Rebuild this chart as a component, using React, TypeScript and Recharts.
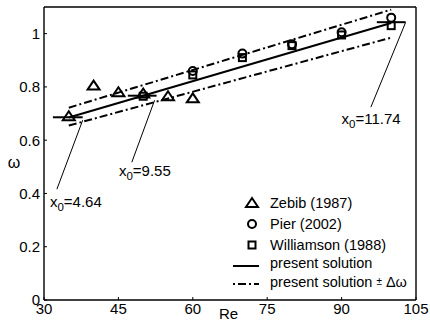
import React from 'react';
import {
    ComposedChart,
    Line,
    Scatter,
    XAxis,
    YAxis,
    ReferenceLine,
    ReferenceDot,
    Legend
} from 'recharts';

// experimental points (Re, omega)
const zebib = [
    { x: 35, y: 0.69 },
    { x: 40, y: 0.805 },
    { x: 45, y: 0.78 },
    { x: 50, y: 0.775 },
    { x: 55, y: 0.765 },
    { x: 60, y: 0.757 }
];
const pier = [
    { x: 60, y: 0.86 },
    { x: 70, y: 0.925 },
    { x: 80, y: 0.96 },
    { x: 90, y: 1.005 },
    { x: 100, y: 1.06 }
];
const williamson = [
    { x: 50, y: 0.765 },
    { x: 60, y: 0.845 },
    { x: 70, y: 0.91 },
    { x: 80, y: 0.955 },
    { x: 90, y: 0.995 },
    { x: 100, y: 1.03 }
];

// present solution and its +/- band
const solution = [
    { x: 35, y: 0.685 },
    { x: 100, y: 1.04 }
];
const upperBand = [
    { x: 35, y: 0.722 },
    { x: 100, y: 1.09 }
];
const lowerBand = [
    { x: 35, y: 0.655 },
    { x: 100, y: 0.985 }
];

// short horizontal marks at the x0 points
const mark1 = [{ x: 31.8, y: 0.686 }, { x: 37.8, y: 0.686 }];
const mark2 = [{ x: 46.9, y: 0.767 }, { x: 52.7, y: 0.767 }];
const mark3 = [{ x: 97.1, y: 1.043 }, { x: 102.9, y: 1.043 }];

// annotation leaders and labels
const leaders = [
    [{ x: 37.8, y: 0.675 }, { x: 32.6, y: 0.416 }],
    [{ x: 52.3, y: 0.75 }, { x: 47.7, y: 0.517 }],
    [{ x: 102.9, y: 1.042 }, { x: 95.9, y: 0.724 }]
];
const annoLabels = [
    { x: 31.2, y: 0.35, text: '4.64' },
    { x: 45.1, y: 0.467, text: '9.55' },
    { x: 90.0, y: 0.662, text: '11.74' }
];

const xTicks = [30, 45, 60, 75, 90, 105];
const yTicks = [0, 0.2, 0.4, 0.6, 0.8, 1];

const FONT = '"Liberation Sans", Arial, sans-serif';
const AXIS_LINE = { stroke: '#000', strokeWidth: 1.4 };

const Triangle = ({ cx, cy }: any) => (
    <path d={`M${cx},${cy - 5} L${cx + 6},${cy + 4} L${cx - 6},${cy + 4} Z`} fill="none" stroke="#000" strokeWidth={2} />
);
const Circle = ({ cx, cy }: any) => (
    <circle cx={cx} cy={cy} r={4} fill="none" stroke="#000" strokeWidth={2} />
);
const Square = ({ cx, cy }: any) => (
    <rect x={cx - 3.5} y={cy - 3.5} width={7} height={7} fill="none" stroke="#000" strokeWidth={2} />
);

const AnnoText = (props: any) => {
    const { viewBox, text } = props;
    return (
        <text x={viewBox.x} y={viewBox.y} fontSize={15} fontFamily={FONT} fill="#000">
            x<tspan dy={4} fontSize={11.5}>0</tspan><tspan dy={-4}>={text}</tspan>
        </text>
    );
};

const LegendBox = () => (
    <svg width={200} height={100} style={{ fontFamily: FONT, fontSize: 14.5 }}>
        <Triangle cx={24} cy={11} />
        <text x={42} y={16}>Zebib (1987)</text>
        <Circle cx={24} cy={32} />
        <text x={42} y={37}>Pier (2002)</text>
        <Square cx={24} cy={53} />
        <text x={42} y={58}>Williamson (1988)</text>
        <line x1={5} x2={31} y1={74} y2={74} stroke="#000" strokeWidth={2} />
        <text x={42} y={76}>present solution</text>
        <line x1={5} x2={31} y1={92} y2={92} stroke="#000" strokeWidth={2} strokeDasharray="2 3 8 3" />
        <text x={42} y={95}>present solution <tspan fontSize={10} dy={-2}>±</tspan><tspan dy={2}> Δω</tspan></text>
    </svg>
);

export default function App() {
    return (
        <div style={{ position: 'absolute', left: 0, top: 0, background: '#fff' }}>
            <ComposedChart width={430} height={322} margin={{ top: 0, right: 0, bottom: 0, left: 0 }}>
                <XAxis
                    dataKey="x"
                    type="number"
                    domain={[30, 105]}
                    ticks={xTicks}
                    allowDataOverflow
                    height={22}
                    tickSize={-3}
                    tickMargin={6}
                    axisLine={AXIS_LINE}
                    stroke="#000"
                    tick={{ fill: '#000', fontSize: 15, fontFamily: FONT }}
                />
                <XAxis
                    xAxisId="top"
                    orientation="top"
                    type="number"
                    domain={[30, 105]}
                    ticks={xTicks}
                    height={7}
                    tickSize={-3}
                    tickFormatter={() => ''}
                    axisLine={AXIS_LINE}
                    stroke="#000"
                />
                <YAxis
                    dataKey="y"
                    type="number"
                    domain={[0, 1.1]}
                    ticks={yTicks}
                    allowDataOverflow
                    width={44}
                    tickSize={-3}
                    tickMargin={7}
                    axisLine={AXIS_LINE}
                    stroke="#000"
                    tickFormatter={(v: number) => String(v)}
                    tick={{ fill: '#000', fontSize: 15, fontFamily: FONT }}
                />
                <YAxis
                    yAxisId="right"
                    orientation="right"
                    type="number"
                    domain={[0, 1.1]}
                    ticks={yTicks}
                    width={14}
                    tickSize={-3}
                    tickFormatter={() => ''}
                    axisLine={AXIS_LINE}
                    stroke="#000"
                />

                <Line data={upperBand} dataKey="y" stroke="#000" strokeWidth={2} strokeDasharray="8 3 2 3" dot={false} isAnimationActive={false} />
                <Line data={lowerBand} dataKey="y" stroke="#000" strokeWidth={2} strokeDasharray="8 3 2 3" dot={false} isAnimationActive={false} />
                <Line data={solution} dataKey="y" stroke="#000" strokeWidth={2} dot={false} isAnimationActive={false} />
                <Line data={mark1} dataKey="y" stroke="#000" strokeWidth={2} dot={false} isAnimationActive={false} />
                <Line data={mark2} dataKey="y" stroke="#000" strokeWidth={2} dot={false} isAnimationActive={false} />
                <Line data={mark3} dataKey="y" stroke="#000" strokeWidth={2} dot={false} isAnimationActive={false} />

                <Scatter data={zebib} shape={<Triangle />} isAnimationActive={false} />
                <Scatter data={pier} shape={<Circle />} isAnimationActive={false} />
                <Scatter data={williamson} shape={<Square />} isAnimationActive={false} />

                {leaders.map((seg, i) => (
                    <ReferenceLine key={`l${i}`} segment={seg} stroke="#000" strokeWidth={1} ifOverflow="visible" />
                ))}
                {annoLabels.map((a) => (
                    <ReferenceDot
                        key={a.text}
                        x={a.x}
                        y={a.y}
                        r={0}
                        fill="none"
                        stroke="none"
                        ifOverflow="visible"
                        label={<AnnoText text={a.text} />}
                    />
                ))}

                <Legend
                    layout="horizontal"
                    align="center"
                    verticalAlign="middle"
                    content={() => <LegendBox />}
                    wrapperStyle={{ left: 228, top: 192, width: 200, height: 100 }}
                />

                <text x={14} y={168} textAnchor="middle" fontSize={16} fontFamily={FONT} fill="#000">ω</text>
                <text x={219} y={319} fontSize={15} fontFamily={FONT} fill="#000">Re</text>
            </ComposedChart>
        </div>
    );
}
